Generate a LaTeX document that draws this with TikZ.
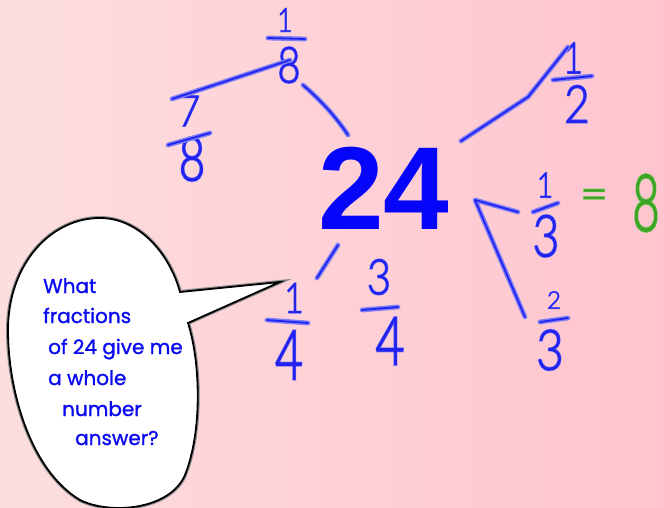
\documentclass[tikz,border=0pt]{standalone}
\usepackage{fontspec}
\setmainfont{Liberation Sans}
\newfontfamily\bubblefont[FakeBold=1.2]{Poppins}
\newfontfamily\hwfont[FakeBold=1.3]{Lato Light}
\newfontfamily\hwglowfont[FakeBold=3.5]{Lato Light}
\definecolor{inkblue}{RGB}{35,35,240}
\definecolor{glowblue}{RGB}{125,125,245}
\definecolor{inkgreen}{RGB}{60,165,35}
\definecolor{glowgreen}{RGB}{125,200,105}
\definecolor{bgleft}{RGB}{253,222,222}
\definecolor{bgright}{RGB}{255,196,207}
\definecolor{bigblue}{RGB}{5,5,250}
\definecolor{textblue}{RGB}{10,10,240}
\newcommand\hwd[8]{%
  \node[inner sep=0pt, text=#7, font=\hwglowfont\fontsize{#4}{#4}\selectfont] (#1g) at (#2,#3) {\scalebox{#8}[1]{#5}};
  \node[inner sep=0pt, text=#6, font=\hwfont\fontsize{#4}{#4}\selectfont] (#1) at (#2,#3) {\scalebox{#8}[1]{#5}};}
\tikzset{
  hwline/.style={draw=inkblue, line width=1.8pt, line cap=round, line join=round,
    preaction={draw=glowblue, line width=4.8pt, line cap=round, line join=round}},
  bubble/.style={fill=white, draw=black, line width=1.8pt, line join=miter,
    preaction={draw=black!45, line width=4pt}},
  bubbletext/.style={anchor=base west, inner sep=0pt, text=textblue, font=\bubblefont\fontsize{20}{20}\selectfont},
}
\begin{document}
\begin{tikzpicture}[x=1pt, y=-1pt]
\useasboundingbox (0,0) rectangle (664,508);
\shade[left color=bgleft, right color=bgright] (0,0) rectangle (664,508);

% big number
\node[inner sep=0pt, text=bigblue, font=\fontsize{118}{118}\selectfont\bfseries] (n24) at (384,188) {24};

% 1/8
\hwd{a1}{285}{20}{33}{1}{inkblue}{glowblue}{0.8}
\hwd{a8}{289}{65}{50}{8}{inkblue}{glowblue}{0.8}
\draw[hwline] (268,38) -- (305,39);
% 7/8
\hwd{b7}{189}{111}{43}{7}{inkblue}{glowblue}{0.9}
\hwd{b8}{192}{159}{61}{8}{inkblue}{glowblue}{0.75}
\draw[hwline] (168,145) -- (210,133);
\draw[hwline] (172,99) -- (290,60);
\draw[hwline] (303,85) .. controls (318,98) and (334,114) .. (348,135);
% 1/2
\hwd{c1}{573}{58}{43}{1}{inkblue}{glowblue}{0.8}
\hwd{c2}{577}{104}{52}{2}{inkblue}{glowblue}{0.85}
\draw[hwline] (461,141) -- (528,97) -- (568,47);
\draw[hwline] (553,80) -- (592,76);
% 1/3 = 8
\hwd{d1}{545}{185}{35}{1}{inkblue}{glowblue}{0.8}
\hwd{d3}{546}{236}{58}{3}{inkblue}{glowblue}{0.8}
\draw[hwline] (533,212) -- (558,203);
\hwd{deq}{594}{200}{48}{=}{inkgreen}{glowgreen}{1}
\hwd{d8}{646}{203}{79}{8}{inkgreen}{glowgreen}{0.6}
% bracket and 2/3
\draw[hwline] (518,212) -- (475,200) -- (525,317);
\hwd{e2}{554}{300}{24}{2}{inkblue}{glowblue}{1}
\hwd{e3}{550}{350}{56}{3}{inkblue}{glowblue}{0.85}
\draw[hwline] (540,322) -- (568,318);
% 1/4 and 3/4
\draw[hwline] (338,245) -- (317,278);
\hwd{f1}{294}{298}{42}{1}{inkblue}{glowblue}{0.8}
\hwd{f4}{289}{355}{69}{4}{inkblue}{glowblue}{0.7}
\draw[hwline] (267,320) -- (308,323);
\hwd{g3}{379}{277}{49}{3}{inkblue}{glowblue}{0.85}
\hwd{g4}{390}{341}{67}{4}{inkblue}{glowblue}{0.75}
\draw[hwline] (362,310) -- (398,307);

% speech bubble
\draw[bubble] (188,323) .. controls (200,360) and (203,430) .. (185,475)
  .. controls (170,510) and (110,515) .. (80,500)
  .. controls (30,470) and (8,390) .. (8,330)
  .. controls (8,265) and (50,218) .. (100,218)
  .. controls (140,218) and (170,255) .. (180,292)
  -- (280,282) -- cycle;
\node[bubbletext] (t1) at (43,293) {What};
\node[bubbletext] (t2) at (43,323) {fractions};
\node[bubbletext] (t3) at (48,354) {of 24 give me};
\node[bubbletext] (t4) at (48,385) {a whole};
\node[bubbletext] (t5) at (62,416) {number};
\node[bubbletext] (t6) at (75,445) {answer?};
\end{tikzpicture}
\end{document}
